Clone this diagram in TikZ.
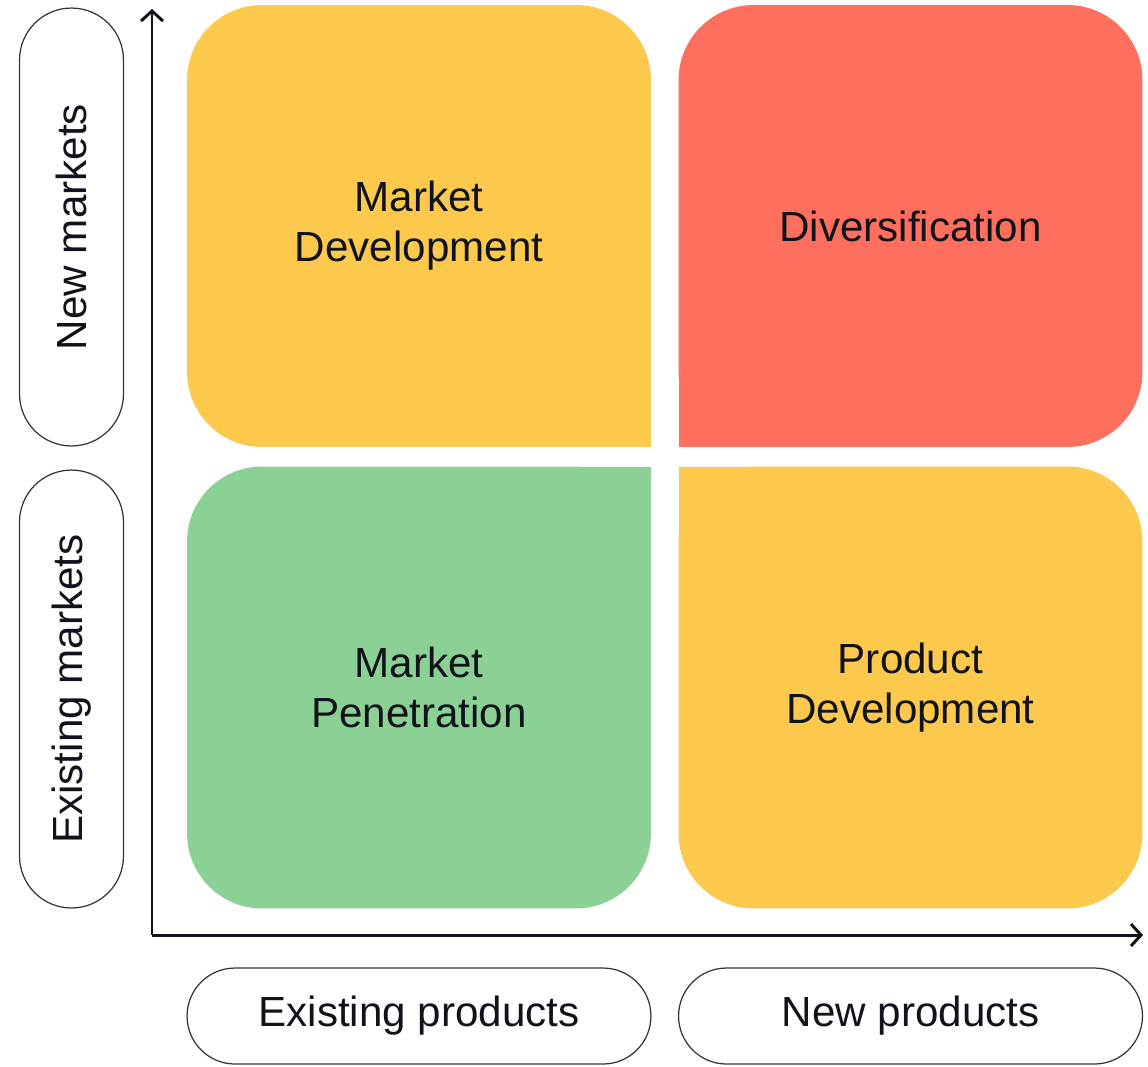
\documentclass[tikz,border=0pt]{standalone}
\usepackage{fontspec}
\setmainfont{Liberation Sans}
\usepackage{tikz}
\usepackage{xcolor}
\usetikzlibrary{shapes,arrows.meta,positioning,calc}
\definecolor{quadyellow}{RGB}{252,201,76}
\definecolor{quadred}{RGB}{255,111,93}
\definecolor{quadgreen}{RGB}{139,209,150}
\definecolor{inkblack}{RGB}{16,18,28}
\definecolor{pillgray}{RGB}{50,52,58}

\begin{document}
\begin{tikzpicture}[x=0.02cm,y=-0.02cm]
    % Define node styles
    \tikzstyle{quad} = [rectangle, rounded corners=1.5cm, minimum width=9.28cm, minimum height=8.84cm, text width=8cm, align=center, inner sep=0pt, text=inkblack, font=\fontsize{24}{28.5}\selectfont]
    \tikzstyle{pill} = [rounded rectangle, draw=pillgray, line width=0.7pt, text=inkblack, inner sep=0pt, font=\fontsize{24}{28.5}\selectfont]
    \tikzstyle{axis} = [line width=1.7pt, draw=inkblack, -{Straight Barb[length=2mm,width=4.4mm]}]

    \useasboundingbox (0,0) rectangle (1148,1066);

    % Square inner corners
    \fill[quadyellow] (551,347) rectangle (651,447);
    \fill[quadred] (679,347) rectangle (779,447);
    \fill[quadgreen] (551,467) rectangle (651,567);
    \fill[quadyellow] (679,467) rectangle (779,567);

    % Quadrants
    \node[quad, fill=quadyellow] (mktdev) at (419,226) {Market\\Development};
    \node[quad, fill=quadred] (divers) at (910.5,226) {Diversification};
    \node[quad, fill=quadgreen] (mktpen) at (419,687.5) {Market\\Penetration};
    \node[quad, fill=quadyellow] (proddev) at (910.5,687.5) {Product\\Development};

    % Axis labels
    \node[pill, rotate=90, minimum width=8.76cm, minimum height=2.08cm] (newmkt) at (71.5,227) {New markets};
    \node[pill, rotate=90, minimum width=8.76cm, minimum height=2.08cm] (oldmkt) at (71.5,689) {Existing markets};
    \node[pill, minimum width=9.28cm, minimum height=1.92cm] (oldprod) at (419,1016) {Existing products};
    \node[pill, minimum width=9.28cm, minimum height=1.92cm] (newprod) at (910.5,1016) {New products};

    % Axes
    \coordinate (origin) at (152,935);
    \coordinate (ytip) at (152,9);
    \coordinate (xtip) at (1143,935);
    \draw[axis] (origin) -- (ytip);
    \draw[axis] (origin) -- (xtip);

\end{tikzpicture}
\end{document}
